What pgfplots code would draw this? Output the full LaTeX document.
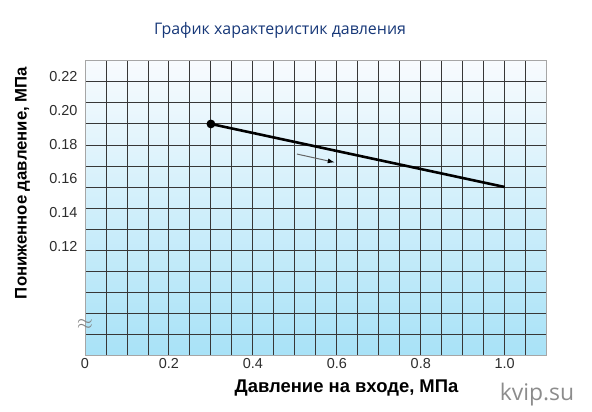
\documentclass[border=0pt]{standalone}
\usepackage{pgfplots}
\pgfplotsset{compat=1.18}
\usepackage{fontspec}
\setmainfont{Liberation Sans}
\newfontfamily\titlefont{Open Sans}
\usetikzlibrary{arrows.meta}
\definecolor{titleblue}{RGB}{22,55,120}
\definecolor{bgbottom}{RGB}{168,226,247}
\definecolor{bgtop}{RGB}{248,251,254}
\definecolor{gridc}{RGB}{55,55,55}
\definecolor{tickc}{RGB}{45,45,45}
\begin{document}
\begin{tikzpicture}
\path (0bp,0bp) rectangle (592bp,412bp);
\begin{axis}[
  at={(85bp,56.3bp)}, anchor=south west,
  scale only axis, width=461.7bp, height=295bp,
  xmin=0, xmax=1.1, ymin=0.05588, ymax=0.22941,
  xtick={0,0.2,0.4,0.6,0.8,1.0},
  xticklabels={0,0.2,0.4,0.6,0.8,1.0},
  ytick={0.12,0.14,0.16,0.18,0.20,0.22},
  yticklabels={0.12,0.14,0.16,0.18,0.20,0.22},
  minor xtick={0,0.05,0.1,0.15,0.2,0.25,0.3,0.35,0.4,0.45,0.5,0.55,0.6,0.65,0.7,0.75,0.8,0.85,0.9,0.95,1.0,1.05,1.1},
  minor ytick={0.05588,0.06828,0.08067,0.09307,0.10546,0.11786,0.13025,0.14265,0.15504,0.16744,0.17983,0.19223,0.20462,0.21702,0.22941},
  xmajorgrids=false, ymajorgrids=false,
  xminorgrids=true, yminorgrids=true,
  minor grid style={gridc, line width=0.9bp},
  major tick length=0pt, minor tick length=0pt,
  axis line style={gray!70, line width=1bp},
  axis background/.style={top color=bgtop, bottom color=bgbottom},
  tick label style={font=\fontsize{14.5}{15}\selectfont, text=tickc},
  xticklabel style={yshift=1bp},
  yticklabel style={xshift=-4bp},
  /pgf/number format/assume math mode=true,
  clip=false,
]
\addplot[black, line width=2.6bp, mark=*, mark indices={1}, mark size=3bp] coordinates {(0.3,0.1922) (1.0,0.1551)};
\addplot[gray!80!black, line width=1bp, -{Latex[length=7bp,width=5bp,black]}] coordinates {(0.505,0.1745) (0.595,0.1696)};
\node[text=gray, font=\fontsize{22}{22}\selectfont] at (axis cs:0,0.074) {$\approx$};
\end{axis}
\node[font=\titlefont\fontsize{16}{18}\selectfont, text=titleblue] at (280bp,382bp) {График характеристик давления};
\node[font=\bfseries\fontsize{16.8}{19}\selectfont, rotate=90] at (22.5bp,229bp) {Пониженное давление, МПа};
\node[font=\bfseries\fontsize{18.5}{20}\selectfont] at (346.5bp,24bp) {Давление на входе, МПа};
\node[font=\titlefont\fontsize{23}{24}\selectfont, text=gray!90] at (537bp,17bp) {kvip.su};
\end{tikzpicture}
\end{document}
